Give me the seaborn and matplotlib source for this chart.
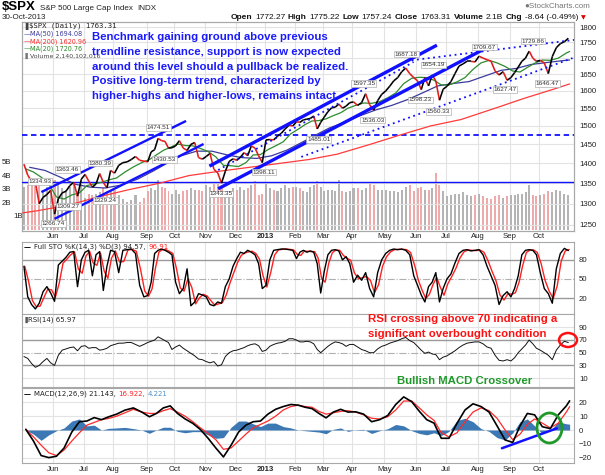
import numpy as np
import pandas as pd
import matplotlib
matplotlib.use("Agg")
import matplotlib.pyplot as plt
import seaborn as sns
from matplotlib.collections import LineCollection
from matplotlib.patches import Ellipse
from matplotlib.offsetbox import TextArea, HPacker, AnnotationBbox

# ---------------------------------------------------------------- data
month_labels = ["Jun", "Jul", "Aug", "Sep", "Oct", "Nov", "Dec", "2013", "Feb",
                "Mar", "Apr", "May", "Jun", "Jul", "Aug", "Sep", "Oct"]
# trading days per month, May-2012 ... Oct-2013 (x axis = trading-day index)
month_days = [21, 21, 20, 23, 19, 21, 21, 20, 21, 19, 20, 22, 22, 20, 22, 22, 20, 22]

# closes, 8 readings per month
close = [1398, 1370, 1355, 1352, 1300, 1315, 1322, 1332,
         1275, 1312, 1326, 1330, 1344, 1352, 1318, 1360,
         1372, 1355, 1340, 1348, 1374, 1352, 1338, 1382,
         1375, 1395, 1402, 1404, 1410, 1418, 1408, 1406,
         1404, 1430, 1436, 1466, 1460, 1458, 1440, 1441,
         1446, 1460, 1440, 1434, 1450, 1455, 1415, 1411,
         1418, 1426, 1385, 1376, 1350, 1380, 1405, 1412,
         1408, 1416, 1428, 1420, 1446, 1440, 1420, 1402,
         1462, 1463, 1462, 1472, 1480, 1492, 1502, 1500,
         1512, 1510, 1517, 1519, 1521, 1528, 1492, 1510,
         1525, 1540, 1551, 1553, 1562, 1550, 1556, 1566,
         1568, 1558, 1566, 1592, 1560, 1544, 1572, 1590,
         1600, 1614, 1630, 1640, 1658, 1669, 1652, 1640,
         1630, 1604, 1640, 1615, 1648, 1630, 1573, 1605,
         1614, 1628, 1652, 1675, 1682, 1690, 1690, 1688,
         1706, 1700, 1695, 1690, 1660, 1648, 1658, 1632,
         1640, 1655, 1672, 1690, 1700, 1722, 1700, 1690,
         1693, 1685, 1652, 1705, 1733, 1746, 1752, 1763.31]

# volume in billions, 8 readings per month
volume_b = [3.2, 3.3, 3.5, 3.8, 3.6, 3.0, 3.2, 3.4,
            3.7, 3.3, 3.1, 3.0, 3.2, 3.5, 2.9, 3.6,
            2.4, 2.7, 2.6, 2.7, 2.8, 3.1, 2.9, 2.9,
            3.0, 2.6, 2.3, 2.1, 2.2, 2.6, 2.1, 2.4,
            2.9, 3.1, 3.0, 3.7, 3.2, 3.1, 2.9, 2.7,
            3.0, 2.7, 2.9, 3.0, 3.1, 3.0, 3.0, 2.9,
            3.3, 3.2, 3.4, 3.5, 3.2, 2.6, 2.5, 3.1,
            3.0, 3.2, 3.0, 3.1, 3.3, 3.6, 2.6, 2.7,
            3.5, 3.1, 3.0, 2.9, 3.1, 3.3, 3.1, 3.2,
            3.2, 3.1, 2.9, 2.8, 3.2, 3.3, 3.6, 3.2,
            2.9, 3.0, 3.0, 2.9, 3.7, 2.9, 2.8, 2.9,
            3.1, 3.1, 3.0, 3.1, 3.5, 3.3, 3.0, 3.0,
            3.0, 2.9, 2.9, 2.8, 3.0, 3.2, 3.3, 2.9,
            3.1, 3.2, 3.0, 3.0, 3.1, 4.2, 3.3, 2.9,
            2.5, 2.6, 2.7, 2.7, 2.8, 2.6, 2.5, 2.6,
            2.7, 2.5, 2.4, 2.3, 2.5, 2.6, 2.4, 2.5,
            2.6, 2.6, 2.7, 2.7, 2.8, 3.3, 2.6, 2.5,
            2.6, 2.7, 2.9, 2.8, 3.0, 2.9, 2.7, 2.6]

# moving averages
ma20 = [1386, 1378, 1365, 1348, 1316, 1311, 1321, 1326, 1344, 1348, 1352, 1358,
        1363, 1378, 1391, 1402, 1410, 1422, 1434, 1442, 1451, 1447, 1446, 1439,
        1431, 1417, 1395, 1394, 1392, 1402, 1422, 1423, 1436, 1446, 1457, 1479,
        1491, 1504, 1514, 1515, 1520, 1529, 1537, 1550, 1558, 1565, 1564, 1569,
        1580, 1594, 1622, 1638, 1641, 1640, 1632, 1618, 1618, 1627, 1640, 1665,
        1685, 1693, 1685, 1674, 1660, 1657, 1671, 1684, 1694, 1693, 1700, 1716,
        1720.76]                                  # 4 per month + last
ma50 = [1390, 1382, 1365, 1347, 1340, 1338, 1345, 1360, 1380, 1400, 1420, 1432,
        1432, 1422, 1415, 1413, 1420, 1435, 1455, 1475, 1495, 1510, 1528, 1545,
        1558, 1575, 1595, 1615, 1622, 1628, 1645, 1662, 1668, 1680, 1686, 1692,
        1694.08]                                  # 2 per month + last
ma200 = [1278, 1283, 1296, 1316, 1334, 1350, 1369, 1380, 1390, 1400, 1410,
         1424, 1448, 1475, 1500, 1518, 1548, 1578, 1606, 1620.96]  # first, 1 per month, last

# Full stochastics %K, 8 readings per month
sto_k = [70, 22, 10, 3, 12, 30, 38, 28,
         15, 72, 78, 84, 92, 93, 38, 80,
         92, 95, 55, 88, 93, 32, 70, 95,
         93, 60, 95, 96, 97, 90, 40, 22,
         24, 45, 90, 95, 97, 95, 92, 88,
         45, 27, 35, 66, 8, 14, 27, 25,
         22, 10, 8, 14, 12, 38, 50, 70,
         82, 92, 90, 95, 92, 88, 74, 35,
         40, 80, 95, 96, 97, 97, 96, 95,
         82, 92, 95, 92, 94, 92, 74, 28,
         62, 88, 95, 96, 94, 80, 85, 74,
         45, 56, 48, 60, 35, 22, 60, 80,
         90, 95, 97, 96, 97, 95, 88, 55,
         40, 25, 14, 38, 45, 60, 14, 35,
         50, 58, 75, 90, 95, 96, 94, 95,
         96, 88, 70, 55, 40, 10, 24, 30,
         22, 35, 55, 88, 95, 96, 95, 88,
         60, 35, 27, 12, 66, 90, 98, 94.57]

# RSI(14), 8 readings per month
rsi = [44, 41, 33, 27, 30, 36, 41, 34,
       30, 46, 54, 56, 58, 59, 53, 60,
       61, 57, 58, 58, 54, 55, 57, 61,
       63, 65, 65, 66, 66, 63, 60, 63,
       66, 68, 70, 75, 72, 69, 66, 55,
       59, 62, 57, 53, 49, 45, 40, 39,
       36, 34, 36, 29, 31, 44, 50, 53,
       54, 56, 58, 61, 63, 64, 61, 52,
       54, 60, 63, 65, 66, 68, 72, 72,
       70, 67, 67, 68, 67, 64, 55, 50,
       55, 60, 64, 67, 66, 64, 60, 63,
       63, 59, 55, 53, 50, 50, 56, 60,
       62, 65, 67, 69, 72, 74, 69, 66,
       60, 54, 49, 51, 48, 47, 39, 43,
       45, 49, 53, 58, 62, 65, 66, 67,
       67, 64, 59, 57, 46, 38, 37, 39,
       37, 42, 50, 56, 62, 70, 64, 57,
       54, 50, 46, 39, 54, 62, 68, 65.97]

# MACD(12,26,9) line and signal, 4 readings per month + last
macd = [0.5, -8, -18.5, -20, -19, -13, -1.5, 6, 6.5, 9, 7.5, 9.6,
        11.5, 14.4, 16, 13, 9.6, 12, 16, 17.5, 12, 8, 4.8, 0.3,
        -6, -13, -19.5, -11, -1.5, 3.5, 6, 6.5, 11.5, 15, 17, 18.5,
        18, 16.5, 15.5, 12, 8.8, 13, 15, 13, 13.2, 11.5, 6, 7.5,
        10.5, 18.5, 24, 20.5, 13.5, 7.5, 5, -6, -6, 4.8, 14.5, 19,
        17, 13, 3, -7.2, -9, 3, 12, 11, 2.4, 1.0, 11, 17.5, 21.143]
signal = [0.5, -5, -11, -16.5, -18.5, -14.5, -8, -2, 3.5, 5.5, 7.5, 8.4,
          10, 12.5, 15, 13, 12, 12, 14, 15.5, 13, 10, 6, 1.5,
          -2.5, -7, -14, -13, -8, -3, 1.5, 4, 6.5, 10, 14.5, 17,
          18, 17, 16.5, 13.5, 11.5, 12.5, 13.5, 14, 13, 11, 8.5, 8,
          9.6, 14.5, 21, 21, 16, 11, 7, -2, -5, -2, 6, 13,
          16, 14, 8.5, 0, -7, -3, 4, 8, 5, 1.5, 5, 13, 16.922]

# labelled pivots: value, label position (trading day), vertical offset of label (px)
pivot_vals = [1334.93, 1363.46, 1266.74, 1309.27, 1380.39, 1329.24, 1474.51,
              1430.53, 1343.35, 1398.11, 1485.01, 1597.35, 1536.03, 1687.18,
              1598.23, 1654.19, 1560.33, 1709.67, 1627.47, 1729.86, 1646.47]
pivot_day = [12, 30.6, 21, 31.3, 53, 56.6, 92.8, 97, 136, 165.3, 203, 233.7,
             240, 263, 272.7, 281.6, 285, 316.5, 330.8, 350, 359.6]
pivot_off = [8, 8.5, -6, -7, 8, -9, 8, -8, -8, -8, -8, 8.6, -7, 8, -8.4, 8,
             -7, 8, -7.6, 7.6, -7.8]

# hand-drawn trendlines: (day0, price0, day1, price1)
channel_thin = [(12.8, 1328, 112, 1514), (21.8, 1264, 124, 1451)]
channel_thick = [(128, 1393, 284, 1741), (134, 1336, 319, 1735)]
dotted_lines = [(191, 1417, 377, 1700), (263, 1691, 378, 1758), (134, 1383, 268, 1688)]
resistance_level = 1474.51
support_level = 1352
macd_trend = (328.6, -13.2, 366.2, 1.2)

# ---------------------------------------------------------------- layout
W, H = 605, 475
sns.set_theme(style="white")
plt.rcParams['font.family'] = ['Liberation Sans', 'DejaVu Sans']
plt.rcParams['axes.edgecolor'] = '#a8a8a8'
plt.rcParams['axes.linewidth'] = 0.8

fig = plt.figure(figsize=(W / 100, H / 100), dpi=100)
fig.patch.set_facecolor('white')


def fx(px):
    return px / W


def fy(py):
    return 1 - py / H


PL, PR = 22, 574


def panel(top, bottom):
    return fig.add_axes([fx(PL), fy(bottom), fx(PR) - fx(PL), fy(top) - fy(bottom)])


ax_v = panel(22, 231)
ax_p = panel(22, 231)
ax_s = panel(241.5, 313.5)
ax_r = panel(313.5, 386.5)
ax_m = panel(387.5, 463)
ax_v.set_zorder(0)
ax_p.set_zorder(1)
ax_p.patch.set_alpha(0)

starts = np.concatenate([[0], np.cumsum(month_days)[:-1]])
END = int(sum(month_days)) - 1


def grid(n):
    return np.concatenate([s + (np.arange(n) + 0.5) * d / n - 0.5
                           for s, d in zip(starts, month_days)])


pos8 = grid(8)
pos4 = np.append(grid(4), END)
pos2 = np.append(grid(2), END)
pos1 = np.concatenate([[0], grid(1), [END]])
XL = (-0.5, 378)
mticks = starts[1:]

GRID = '#e3e3e3'
for ax in (ax_v, ax_p, ax_s, ax_r, ax_m):
    ax.set_xlim(*XL)
    ax.set_xticks(mticks)
    ax.tick_params(axis='both', length=0, labelsize=5.6, colors='#222222')
    for sp in ax.spines.values():
        sp.set_color('#a8a8a8')
        sp.set_linewidth(0.8)
for ax in (ax_v, ax_s, ax_r, ax_m):
    ax.grid(axis='x', color=GRID, lw=0.8)
    ax.set_axisbelow(True)

# ---------------------------------------------------------------- volume
vol_colors = ['#b4b4b4'] + ['#eeaaaa' if close[i] < close[i - 1] else '#b4b4b4'
                            for i in range(1, len(close))]
bw = np.repeat(np.array(month_days) / 8.0, 8) * 0.55
ax_v.bar(pos8, volume_b, width=bw, color=vol_colors, lw=0, zorder=2)
ax_v.set_ylim(-0.07, 15.4)
ax_v.set_yticks([])
ax_v.set_xticklabels([])
for v in [1, 2, 3, 4, 5]:
    ax_v.text(-0.0362 if v > 1 else -0.0165, v, f"{v}B", transform=ax_v.get_yaxis_transform(),
              ha='left', va='center', fontsize=5.6, color='#222222')

# ---------------------------------------------------------------- price panel
ax_p.set_yscale('log')
ax_p.set_ylim(1236, 1817)
pticks = list(range(1250, 1801, 50))
ax_p.set_yticks(pticks)
ax_p.set_yticklabels([str(t) for t in pticks])
ax_p.yaxis.set_minor_locator(matplotlib.ticker.NullLocator())
ax_p.yaxis.tick_right()
ax_p.tick_params(axis='y', pad=4)
for t in pticks:
    ax_p.axhline(t, color=GRID, lw=0.8, zorder=0)
ax_p.set_xticklabels(month_labels)
ax_p.tick_params(axis='x', pad=1.5)
for lab in ax_p.get_xticklabels():
    if lab.get_text() == "2013":
        lab.set_fontweight('bold')

BLUE = '#1111ff'
ax_p.axhline(resistance_level, color=BLUE, lw=1.3, ls=(0, (3, 2)), zorder=3)
ax_p.axhline(support_level, color=BLUE, lw=1.0, zorder=3)

sns.lineplot(x=pos1, y=ma200, ax=ax_p, color='#ff3b3b', lw=0.9, estimator=None, sort=False, zorder=4)
sns.lineplot(x=pos2, y=ma50, ax=ax_p, color='#3b3b9c', lw=0.9, estimator=None, sort=False, zorder=4)
sns.lineplot(x=pos4, y=ma20, ax=ax_p, color='#2e8b2e', lw=0.9, estimator=None, sort=False, zorder=4)

pts = np.column_stack([pos8, close])
segs = np.stack([pts[:-1], pts[1:]], axis=1)
seg_cols = ['#e01c1c' if close[i + 1] < close[i] else 'black' for i in range(len(close) - 1)]
ax_p.add_collection(LineCollection(segs, colors=seg_cols, linewidths=1.15, zorder=6))

for d0, p0, d1, p1 in channel_thin:
    ax_p.plot([d0, d1], [p0, p1], color=BLUE, lw=1.7, zorder=7, solid_capstyle='butt')
for d0, p0, d1, p1 in channel_thick:
    ax_p.plot([d0, d1], [p0, p1], color=BLUE, lw=2.4, zorder=7, solid_capstyle='butt')
for d0, p0, d1, p1 in dotted_lines:
    ax_p.plot([d0, d1], [p0, p1], color=BLUE, lw=1.3, ls=(0, (1, 2)), zorder=7)

for val, day, off in zip(pivot_vals, pivot_day, pivot_off):
    ax_p.annotate(f"{val:.2f}", xy=(day, val), xytext=(0, off), textcoords='offset pixels',
                  ha='center', va='center', fontsize=4.6, color='#333333', zorder=9,
                  bbox=dict(boxstyle='square,pad=0.12', fc='white', ec='#b0b0b0', lw=0.5))
ax_p.set_xlim(*XL)

# legend text of the price panel
fig.text(fx(22), fy(26), "\u2590", fontsize=5, color='#444444', va='center', family='DejaVu Sans')
fig.text(fx(29), fy(26), "$SPX (Daily) 1763.31", fontsize=5.2, color='#222222', va='center',
         family='DejaVu Sans Mono')
leg = [("MA(50) 1694.08", '#3b3b9c', 34), ("MA(200) 1620.96", '#ff2b2b', 41.7),
       ("MA(20) 1720.76", '#2e8b2e', 48.7)]
for txt, col, yy in leg:
    fig.text(fx(24), fy(yy), "\u2014", fontsize=5, color=col, va='center', family='DejaVu Sans')
    fig.text(fx(30), fy(yy), txt, fontsize=4.7, color=col, va='center', family='DejaVu Sans')
fig.text(fx(23), fy(56), "\u2590", fontsize=4.5, color='#777777', va='center', family='DejaVu Sans')
fig.text(fx(30), fy(56), "Volume 2,140,102,016", fontsize=4.5, color='#444444', va='center',
         family='DejaVu Sans')

# ---------------------------------------------------------------- stochastics
sto_d = pd.Series(sto_k).rolling(2, min_periods=1).mean().to_numpy()
ax_s.set_ylim(-4.1, 108.8)
ax_s.axhline(80, color='#9a9a9a', lw=1.0)
ax_s.axhline(20, color='#9a9a9a', lw=1.0)
ax_s.axhline(50, color='#b0b0b0', lw=0.8, ls='-.')
sns.lineplot(x=pos8 + 0.6, y=sto_d, ax=ax_s, color='#ff2020', lw=1.0, estimator=None, sort=False)
sns.lineplot(x=pos8, y=sto_k, ax=ax_s, color='black', lw=1.0, estimator=None, sort=False)
ax_s.set_yticks([20, 50, 80])
ax_s.yaxis.tick_right()
ax_s.set_xticklabels([])

# ---------------------------------------------------------------- RSI
ax_r.set_ylim(-3.2, 111.7)
for lvl in (10, 90):
    ax_r.axhline(lvl, color=GRID, lw=0.8)
ax_r.axhline(70, color='#9a9a9a', lw=1.0)
ax_r.axhline(30, color='#9a9a9a', lw=1.0)
ax_r.axhline(50, color='#b0b0b0', lw=0.8, ls='-.')
sns.lineplot(x=pos8, y=rsi, ax=ax_r, color='#111111', lw=0.7, estimator=None, sort=False)
ax_r.set_yticks([10, 30, 50, 70, 90])
ax_r.yaxis.tick_right()
ax_r.set_xticklabels([])

# ---------------------------------------------------------------- MACD
hist = np.array(macd) - np.array(signal)
ax_m.set_ylim(-23.9, 30.8)
for lvl in (-20, -10, 0, 10, 20):
    ax_m.axhline(lvl, color=GRID, lw=0.8, zorder=0)
ax_m.fill_between(pos4, hist, 0, color='#3b78b4', lw=0, zorder=2)
sns.lineplot(x=pos4, y=signal, ax=ax_m, color='#ff2a2a', lw=0.9, estimator=None, sort=False, zorder=3)
sns.lineplot(x=pos4, y=macd, ax=ax_m, color='black', lw=1.2, estimator=None, sort=False, zorder=4)
ax_m.plot([macd_trend[0], macd_trend[2]], [macd_trend[1], macd_trend[3]], color=BLUE, lw=1.8, zorder=5)
ax_m.set_yticks([-20, -10, 0, 10, 20])
ax_m.yaxis.tick_right()
ax_m.set_xticklabels(month_labels)
ax_m.tick_params(axis='x', pad=2)
for lab in ax_m.get_xticklabels():
    if lab.get_text() == "2013":
        lab.set_fontweight('bold')
ax_m.set_xlim(*XL)


# ---------------------------------------------------------------- rich text helper
def rich(parts, px, py, align=(0, 0.5), sep=0.0):
    kids = [TextArea(t, textprops=dict(color=c, fontsize=s, fontweight=w, family=f))
            for t, c, s, w, f in parts]
    box = HPacker(children=kids, align='baseline', pad=0, sep=sep)
    ab = AnnotationBbox(box, (fx(px), fy(py)), xycoords='figure fraction',
                        box_alignment=align, frameon=False, pad=0)
    fig.add_artist(ab)


SANS = 'Liberation Sans'
DV = 'DejaVu Sans'
rich([("\u2014", 'black', 5, 'bold', DV),
      ("Full STO %K(14,3) %D(3) 94.57,", '#222222', 5.0, 'normal', DV),
      ("96.91", '#ff2020', 5.0, 'normal', DV)], 24, 247, sep=2)
rich([("\u2590", '#555555', 4.5, 'normal', DV),
      ("RSI(14) 65.97", '#222222', 5.0, 'normal', DV)], 23, 320, sep=0.5)
rich([("\u2014", 'black', 5, 'bold', DV),
      ("MACD(12,26,9) 21.143,", '#222222', 5.0, 'normal', DV),
      ("16.922,", '#ff2020', 5.0, 'normal', DV),
      ("4.221", '#4a90c8', 5.0, 'normal', DV)], 24, 394, sep=2)

# header
rich([("$SPX", 'black', 9.5, 'bold', SANS),
      ("S&P 500 Large Cap Index", '#222222', 5.8, 'normal', SANS),
      ("INDX", '#222222', 5.8, 'normal', SANS)], 2, 7, sep=3)
fig.text(fx(2), fy(17.5), "30-Oct-2013", fontsize=5.8, color='#222222', va='center', family=SANS)
fig.text(fx(590), fy(7), "\u25cfStockCharts.com", fontsize=5.8, color='#777777', va='center',
         ha='right', family=SANS)
hdr = [("Open", 'bold'), ("1772.27", 'normal'), ("High", 'bold'), ("1775.22", 'normal'),
       ("Low", 'bold'), ("1757.24", 'normal'), ("Close", 'bold'), ("1763.31", 'normal'),
       ("Volume", 'bold'), ("2.1B", 'normal'), ("Chg", 'bold'), ("-8.64 (-0.49%)", 'normal')]
rich([(t, '#111111', 6.0, w, SANS) for t, w in hdr] + [("\u25bc", '#dd0000', 4.5, 'normal', DV)],
     586, 17.5, align=(1, 0.5), sep=1.9)

# ---------------------------------------------------------------- commentary
blue_lines = ["Benchmark gaining ground above previous",
              "trendline resistance, support is now expected",
              "around this level should a pullback be realized.",
              "Positive long-term trend, characterized by",
              "higher-highs and higher-lows, remains intact"]
for i, s in enumerate(blue_lines):
    fig.text(fx(92), fy(37 + 14.75 * i), s, fontsize=8.2, fontweight='bold', color='#1a1aff',
             va='center', ha='left', family=SANS)
red_lines = ["RSI crossing above 70 indicating a", "significant overbought condition"]
for i, s in enumerate(red_lines):
    fig.text(fx(368), fy(319.3 + 14.7 * i), s, fontsize=8.2, fontweight='bold', color='#ff1010',
             va='center', ha='left', family=SANS)
fig.text(fx(397), fy(380.7), "Bullish MACD Crossover", fontsize=8.2, fontweight='bold',
         color='#1f9a2a', va='center', ha='left', family=SANS)

fig.add_artist(Ellipse((fx(568), fy(340)), 18 / W, 14 / H, transform=fig.transFigure,
                       fill=False, ec='#ff1010', lw=1.8, zorder=20))
fig.add_artist(Ellipse((fx(549.5), fy(428)), 25 / W, 30 / H, transform=fig.transFigure,
                       fill=False, ec='#1f9a2a', lw=2.0, zorder=20))

fig.savefig("out.png", dpi=100, facecolor='white')
